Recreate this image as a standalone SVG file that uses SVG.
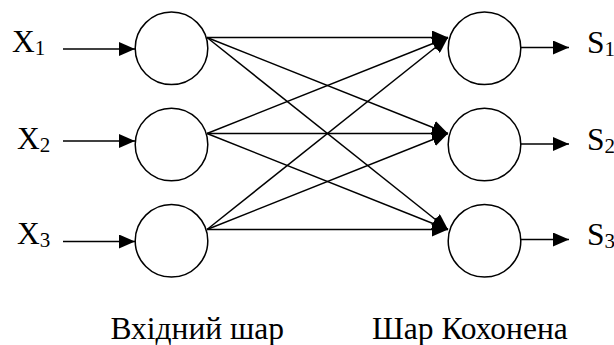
<svg xmlns="http://www.w3.org/2000/svg" width="614" height="345" viewBox="0 0 614 345">
  <style>
    .node { fill: #fff; stroke: #000; stroke-width: 1.5; }
    .edge { stroke: #000; stroke-width: 1.5; fill: none; }
    text { font-family: 'Liberation Serif', 'Times New Roman', serif; font-size: 31.5px; fill: #000; }
    .sub { font-size: 21px; }
  </style>
  <defs>
    <marker id="ah" viewBox="0 0 16 14" refX="16" refY="7" markerWidth="16" markerHeight="14" markerUnits="userSpaceOnUse" orient="auto">
      <path d="M0,0 L16,7 L0,14 z" fill="#000"/>
    </marker>
  </defs>
  <rect width="614" height="345" fill="#fff"/>

  <!-- connectors -->
  <g id="connectors" class="edge" marker-end="url(#ah)">
    <!-- inputs -->
    <line x1="63" y1="49" x2="135" y2="49"/>
    <line x1="63" y1="141" x2="135" y2="141"/>
    <line x1="63" y1="241.5" x2="135" y2="241.5"/>
    <!-- input layer to Kohonen layer -->
    <line x1="207" y1="37.5" x2="448" y2="37.5"/>
    <line x1="207" y1="37.5" x2="448" y2="133.5"/>
    <line x1="207" y1="37.5" x2="448" y2="229.5"/>
    <line x1="207" y1="133.5" x2="448" y2="37.5"/>
    <line x1="207" y1="133.5" x2="448" y2="133.5"/>
    <line x1="207" y1="133.5" x2="448" y2="229.5"/>
    <line x1="207" y1="229.5" x2="448" y2="37.5"/>
    <line x1="207" y1="229.5" x2="448" y2="133.5"/>
    <line x1="207" y1="229.5" x2="448" y2="229.5"/>
    <!-- outputs -->
    <line x1="521" y1="47.5" x2="569" y2="47.5"/>
    <line x1="521" y1="144" x2="569" y2="144"/>
    <line x1="521" y1="239.5" x2="569" y2="239.5"/>
  </g>

  <!-- input layer -->
  <g id="in1"><circle class="node" cx="171.5" cy="48.3" r="36.3"/></g>
  <g id="in2"><circle class="node" cx="171.5" cy="144.5" r="36.3"/></g>
  <g id="in3"><circle class="node" cx="171.5" cy="240.8" r="36.3"/></g>

  <!-- Kohonen layer -->
  <g id="k1"><circle class="node" cx="484.5" cy="48.3" r="36.3"/></g>
  <g id="k2"><circle class="node" cx="484.5" cy="144.5" r="36.3"/></g>
  <g id="k3"><circle class="node" cx="484.5" cy="240.8" r="36.3"/></g>

  <!-- input labels -->
  <g id="x1"><text x="12" y="52.3">X<tspan class="sub" dy="2.4">1</tspan></text></g>
  <g id="x2"><text x="17" y="149.3">X<tspan class="sub" dy="2.8">2</tspan></text></g>
  <g id="x3"><text x="17" y="244.3">X<tspan class="sub" dy="3">3</tspan></text></g>

  <!-- output labels -->
  <g id="s1"><text x="587" y="53.3">S<tspan class="sub" dy="2.4">1</tspan></text></g>
  <g id="s2"><text x="587" y="150">S<tspan class="sub" dy="2.8">2</tspan></text></g>
  <g id="s3"><text x="587" y="245">S<tspan class="sub" dy="3">3</tspan></text></g>

  <!-- layer captions -->
  <g id="cap-in"><text x="110.5" y="339.3">Вхідний шар</text></g>
  <g id="cap-k"><text x="372" y="339.3">Шар Кохонена</text></g>
</svg>
